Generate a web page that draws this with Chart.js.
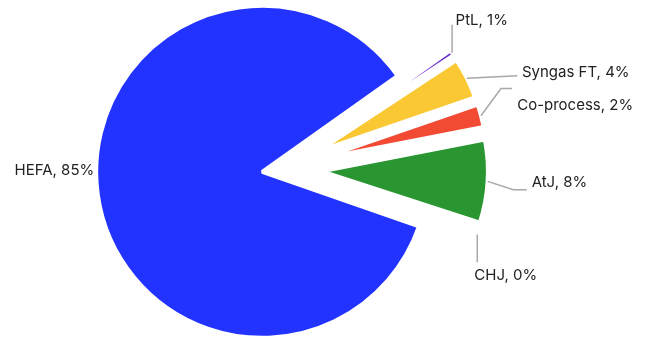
<!DOCTYPE html>
<html>
<head>
<meta charset="utf-8">
<script src="https://cdn.jsdelivr.net/npm/chart.js@4/dist/chart.umd.min.js"></script>
<style>
  html, body { margin: 0; padding: 0; background: #fff; }
  #wrap { width: 652px; height: 340px; position: relative; }
</style>
</head>
<body>
<div id="wrap"><canvas id="pie"></canvas></div>
<script>
// Share of SAF production pathway (%)
const categories = ['HEFA', 'PtL', 'Syngas FT', 'Co-process', 'AtJ', 'CHJ'];
const shares = [84.85, 0.55, 4.0, 2.2, 8.05, 0.35];

// Slice styling
const sliceColors = ['#2233ff', '#6a2cd0', '#fac832', '#f24a33', '#2a9632', '#8c8c8c'];
const pullOut = [20, 40, 40, 40, 40, 40];   // px each slice is pushed out along its bisector
const RADIUS = 166;

// Label layout, relative to the outer midpoint of each slice
const leaderPaths = [
  [],
  [[0, 0], [0, -28]],
  [[0, 0], [50.4, -2.4]],
  [[0, 0], [20, -27.2], [31, -27.2]],
  [[0, 0], [25.7, 8.3], [39.1, 8.3]],
  [[0, 0], [0, 27.6]]
];
const textSpots = [
  { dx: -3.6, dy: -19.7, align: 'right' },
  { dx: 3.5, dy: -27.4, align: 'left' },
  { dx: 55, dy: -1.2, align: 'left' },
  { dx: 36.2, dy: -5.7, align: 'left' },
  { dx: 44, dy: 5.7, align: 'left' },
  { dx: -3, dy: 45, align: 'left' }
];

const total = shares.reduce((a, b) => a + b, 0);
const labelText = i => `${categories[i]}, ${Math.round(shares[i] / total * 100)}%`;

// Exploded slices: move each arc out along its own bisector
const explode = {
  id: 'explode',
  beforeDatasetDraw(chart, args) {
    const area = chart.chartArea;
    const cx = (area.left + area.right) / 2;
    const cy = (area.top + area.bottom) / 2;
    args.meta.data.forEach((arc, i) => {
      const mid = (arc.startAngle + arc.endAngle) / 2;
      arc.x = cx + Math.cos(mid) * pullOut[i];
      arc.y = cy + Math.sin(mid) * pullOut[i];
    });
  }
};

// Outside labels with grey leader lines
const outsideLabels = {
  id: 'outsideLabels',
  afterDatasetsDraw(chart) {
    const ctx = chart.ctx;
    const arcs = chart.getDatasetMeta(0).data;
    ctx.save();
    arcs.forEach((arc, i) => {
      const mid = (arc.startAngle + arc.endAngle) / 2;
      const ax = arc.x + Math.cos(mid) * arc.outerRadius;
      const ay = arc.y + Math.sin(mid) * arc.outerRadius;
      const path = leaderPaths[i];
      if (path.length > 1) {
        ctx.beginPath();
        path.forEach(([px, py], k) => {
          if (k === 0) ctx.moveTo(ax + px, ay + py);
          else ctx.lineTo(ax + px, ay + py);
        });
        ctx.strokeStyle = '#a8a8a8';
        ctx.lineWidth = 1.5;
        ctx.lineJoin = 'miter';
        ctx.stroke();
      }
      const spot = textSpots[i];
      ctx.font = '15px Inter, "Noto Sans", sans-serif';
      ctx.fillStyle = '#222';
      ctx.textAlign = spot.align;
      ctx.textBaseline = 'alphabetic';
      ctx.fillText(labelText(i), ax + spot.dx, ay + spot.dy);
    });
    ctx.restore();
  }
};

function draw() {
  new Chart(document.getElementById('pie'), {
    type: 'pie',
    data: {
      labels: categories,
      datasets: [{
        data: shares,
        backgroundColor: sliceColors,
        borderColor: '#ffffff',
        borderWidth: 4,
        hoverOffset: 0,
        radius: RADIUS
      }]
    },
    options: {
      responsive: true,
      maintainAspectRatio: false,
      animation: false,
      events: [],
      rotation: 109.2,
      layout: { padding: { left: 0, right: 88, top: 0, bottom: 2 } },
      plugins: {
        legend: { display: false },
        tooltip: { enabled: false }
      }
    },
    plugins: [explode, outsideLabels]
  });
}

if (document.fonts && document.fonts.load) {
  document.fonts.load('15px Inter').then(draw, draw);
} else {
  draw();
}
</script>
</body>
</html>
